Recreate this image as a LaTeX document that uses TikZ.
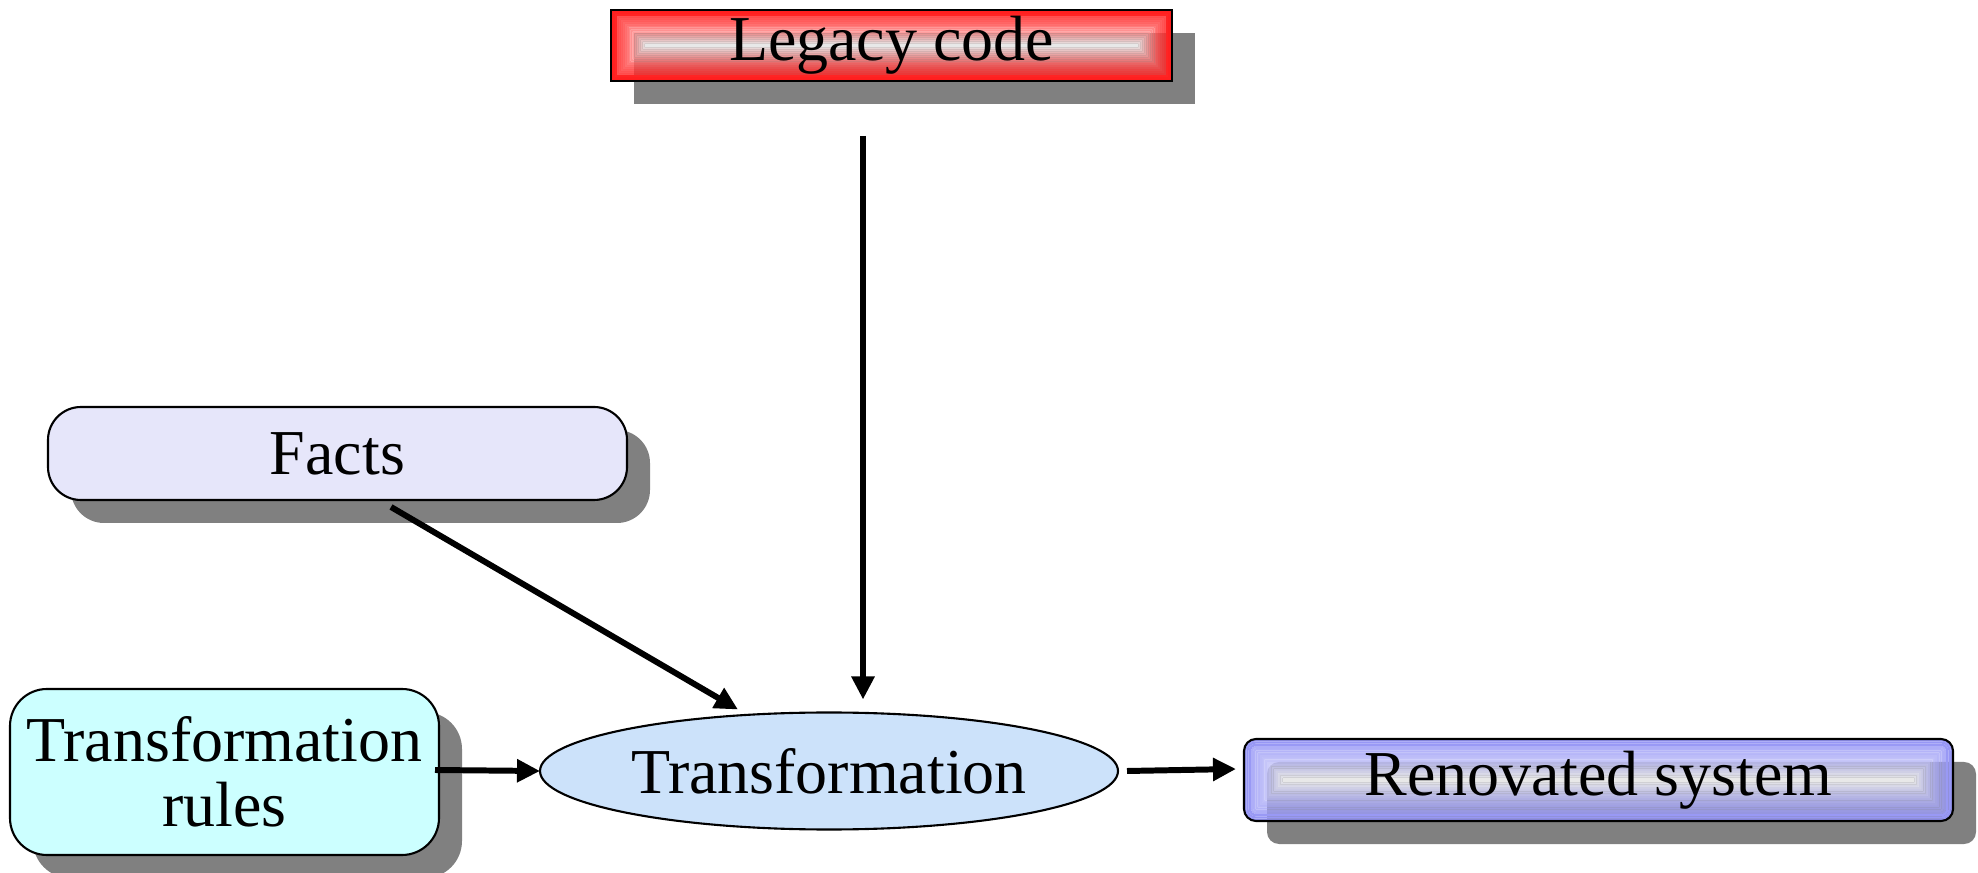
\documentclass[tikz,border=0pt]{standalone}
\usepackage{fontspec}
\setmainfont{Liberation Serif}
\usetikzlibrary{arrows.meta,shadows,backgrounds,shapes.geometric}

\definecolor{legacyred}{RGB}{255,30,30}
\definecolor{renovblue}{RGB}{150,150,245}
\definecolor{factsfill}{RGB}{230,230,250}
\definecolor{rulesfill}{RGB}{204,255,255}
\definecolor{transfill}{RGB}{204,226,250}
\definecolor{shadowgrey}{RGB}{128,128,128}

% Concentric banded fill of a box: bands fade from the edge colour to white
% towards a thin white line along the middle of the box.
% #1 node, #2 edge colour, #3 corner radius (pt), #4 number of bands
\newcommand\bandfill[4]{%
  \pgfpointanchor{#1}{south west}\pgfgetlastxy{\bfxa}{\bfya}%
  \pgfpointanchor{#1}{north east}\pgfgetlastxy{\bfxb}{\bfyb}%
  \pgfmathsetmacro\bfhalf{(\bfyb-\bfya)/2}%
  \foreach \k in {1,...,#4}{%
    \pgfmathsetmacro\bfa{(\k-1)*\bfhalf/#4}%
    \pgfmathsetmacro\bfb{\k*\bfhalf/#4}%
    \pgfmathsetmacro\bfra{max(#3-\bfa,0.01)}%
    \pgfmathsetmacro\bfrb{max(#3-\bfb,0.01)}%
    \pgfmathsetmacro\bfmix{100*(1-((\k-1)/(#4-1))^1.7)}%
    \pgfmathsetmacro\bfop{\k<4 ? 1 : 0.82}%
    \fill[#2!\bfmix!white, fill opacity=\bfop, even odd rule]
      [rounded corners=\bfra pt]
      (\bfxa+\bfa pt, \bfya+\bfa pt) rectangle (\bfxb-\bfa pt, \bfyb-\bfa pt)
      [rounded corners=\bfrb pt]
      (\bfxa+\bfb pt, \bfya+\bfb pt) rectangle (\bfxb-\bfb pt, \bfyb-\bfb pt);
  }%
}

% Flat grey shadow behind a box. #1 node, #2 corner radius
\newcommand\boxshadow[2]{%
  \fill[shadowgrey, rounded corners=#2]
    ([shift={(0.23,-0.23)}]#1.south west) rectangle ([shift={(0.23,-0.23)}]#1.north east);
}

\tikzset{
  label font/.style={font=\fontsize{18.2}{18.4}\selectfont},
  box/.style={draw=black, line width=0.6pt, outer sep=0pt, inner sep=0pt,
    label font, align=center},
  plainbox/.style={box, drop shadow={shadow xshift=0.23cm, shadow yshift=-0.23cm,
    fill=shadowgrey, opacity=1}},
  flow/.style={line width=1.7pt, -{Triangle[length=0.23cm,width=0.22cm]}},
}

\begin{document}
\begin{tikzpicture}
\useasboundingbox (0,0) rectangle (19.78,8.72);

% boxes
\node[box, minimum width=5.61cm, minimum height=0.71cm] (legacy) at (8.915,8.265)
  {\raisebox{-2pt}{Legacy code}};
\node[plainbox, fill=factsfill, rounded corners=0.33cm, minimum width=5.79cm, minimum height=0.93cm]
  (facts) at (3.375,4.185) {\raisebox{-0.5pt}{Facts}};
\node[plainbox, fill=rulesfill, rounded corners=0.37cm, minimum width=4.29cm, minimum height=1.66cm]
  (rules) at (2.245,1.00) {Transformation\\rules};
\node[box, ellipse, fill=transfill, minimum width=5.78cm, minimum height=1.17cm]
  (trans) at (8.29,1.01) {Transformation};
\node[box, rounded corners=0.12cm, minimum width=7.09cm, minimum height=0.82cm]
  (renov) at (15.985,0.92) {\raisebox{-2pt}{Renovated system}};

% shadows and banded fills of the two end boxes
\begin{pgfonlayer}{background}
  \boxshadow{legacy}{0pt}
  \bandfill{legacy}{legacyred}{0}{18}
  \boxshadow{renov}{0.12cm}
  \bandfill{renov}{renovblue}{3.4}{18}
\end{pgfonlayer}

% connectors
\draw[flow] ([shift={(-0.285,-0.55)}]legacy.south) -- ([shift={(0.34,0.13)}]trans.north);
\draw[flow] ([shift={(0.535,-0.07)}]facts.south) -- ([shift={(-0.91,0.03)}]trans.north);
\draw[flow] ([shift={(-0.04,0.02)}]rules.east) -- (trans.west);
\draw[flow] ([shift={(0.09,0)}]trans.east) -- ([shift={(-0.08,0.11)}]renov.west);
\end{tikzpicture}
\end{document}
